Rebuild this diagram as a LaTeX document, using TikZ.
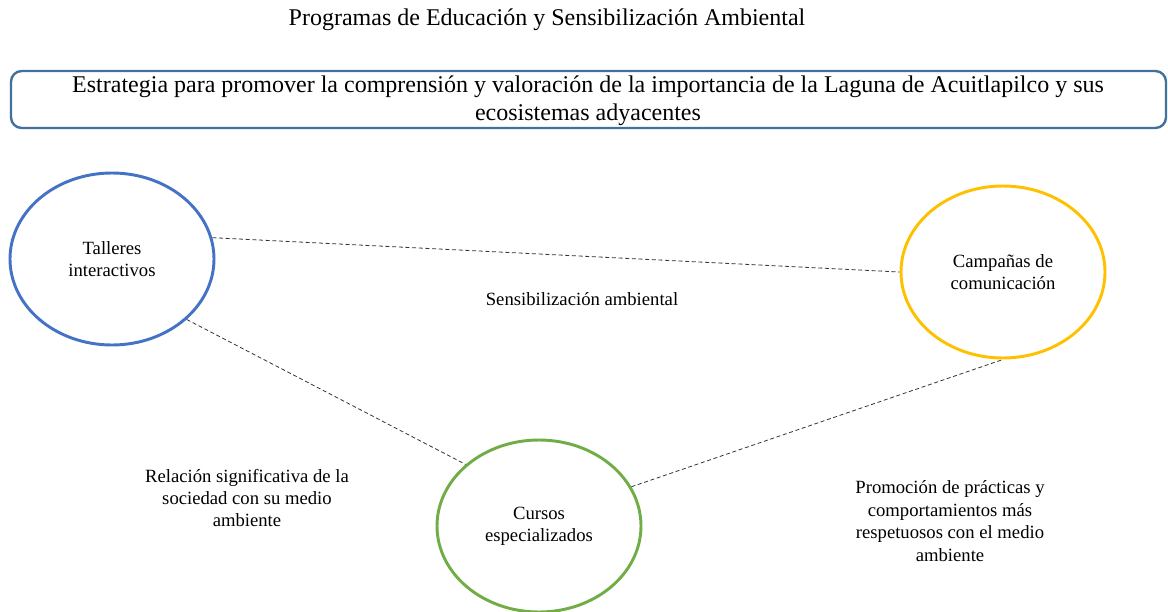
\documentclass[tikz,border=0pt]{standalone}
\usepackage{fontspec}
\setmainfont{Liberation Serif}
\usetikzlibrary{shapes.geometric}
\definecolor{boxblue}{HTML}{41719C}
\definecolor{cblue}{HTML}{4472C4}
\definecolor{cyellow}{HTML}{FFC000}
\definecolor{cgreen}{HTML}{70AD47}
\tikzset{
  circ/.style={ellipse, draw, line width=2.2pt, minimum width=204*0.75pt, minimum height=172*0.75pt, align=center, font=\fontsize{14}{16.8}\selectfont, inner sep=0pt},
  conn/.style={line width=0.6pt, dash pattern=on 3pt off 2pt, black!80},
  lbl/.style={align=center, font=\fontsize{14}{16.8}\selectfont},
}
\begin{document}
\begin{tikzpicture}[x=0.75pt,y=-0.75pt]
\useasboundingbox (0,0) rectangle (1168,611);
\node[font=\fontsize{18}{21}\selectfont] (title) at (547,20) {Programas de Educación y Sensibilización Ambiental};
\draw[boxblue, line width=1.8pt, rounded corners=8pt] (11,71) rectangle (1166,128);
\node[align=center, font=\fontsize{18}{21}\selectfont] (strat) at (588,101) {Estrategia para promover la comprensión y valoración de la importancia de la Laguna de Acuitlapilco y sus\\ecosistemas adyacentes};
\node[circ, cblue, text=black] (tall) at (112,259) {Talleres\\interactivos};
\node[circ, cyellow, text=black] (camp) at (1003,272) {Campañas de\\comunicación};
\node[circ, cgreen, text=black] (curs) at (539,526) {Cursos\\especializados};
\draw[conn] (tall.12) -- (camp.180);
\draw[conn] (tall.-39) -- (curs.140);
\draw[conn] (curs.23) -- (camp.-90);
\node[lbl] (l1) at (582,299) {Sensibilización ambiental};
\node[lbl] (l2) at (247,498) {Relación significativa de la\\sociedad con su medio\\ambiente};
\node[lbl] (l3) at (950,521) {Promoción de prácticas y\\comportamientos más\\respetuosos con el medio\\ambiente};
\end{tikzpicture}
\end{document}
